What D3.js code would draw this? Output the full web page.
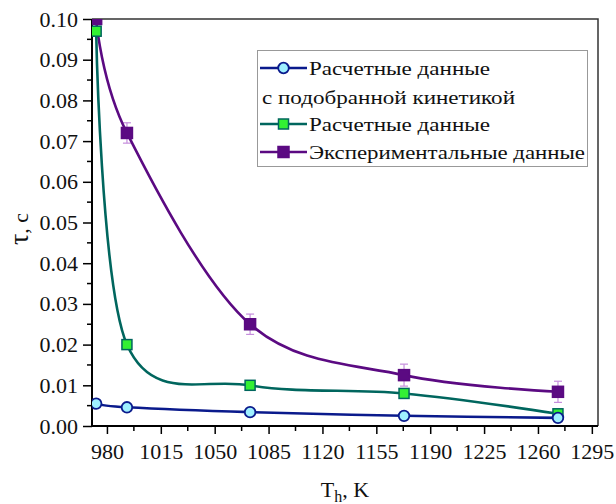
<!DOCTYPE html>
<html>
<head>
<meta charset="utf-8">
<script src="https://cdn.jsdelivr.net/npm/d3@7"></script>
<style>
  body { margin: 0; background: #fff; }
  svg text { font-family: 'Liberation Serif', 'DejaVu Serif', 'Times New Roman', Times, serif !important; }
</style>
</head>
<body>
<div id="app"></div>
<script>
const WIDTH = 616;
const HEIGHT = 504;

// temperature, K
const temps = [973, 993, 1073, 1173, 1273];
// tau, s
const fittedKinetics = [0.0055, 0.0046, 0.0034, 0.0025, 0.0020];
const calculated = [0.097, 0.020, 0.010, 0.008, 0.003];
const experimental = [0.100, 0.072, 0.025, 0.0125, 0.0084];
const experimentalErr = [0.0025, 0.0025, 0.0025, 0.0027, 0.0026];

const xTicks = [980, 1015, 1050, 1085, 1120, 1155, 1190, 1225, 1260, 1295];
const yTicks = [0, 0.01, 0.02, 0.03, 0.04, 0.05, 0.06, 0.07, 0.08, 0.09, 0.10];

const legendLabels = ['Расчетные данные', 'с подобранной кинетикой', 'Расчетные данные', 'Экспериментальные данные'];

const FONT = "'Liberation Serif', 'DejaVu Serif', serif";
const margin = { left: 92, right: 18, top: 19, bottom: 78 };

const svg = d3.select('#app')
  .append('svg')
    .attr('width', WIDTH)
    .attr('height', HEIGHT)
    .style('font-family', FONT);

const x = d3.scaleLinear()
  .domain([970.3, 1299])
  .range([margin.left, WIDTH - margin.right]);

const y = d3.scaleLinear()
  .domain([0, 0.10])
  .range([HEIGHT - margin.bottom, margin.top]);

svg.append('defs').append('clipPath')
  .attr('id', 'plot-clip')
  .append('rect')
    .attr('x', margin.left)
    .attr('y', margin.top)
    .attr('width', WIDTH - margin.right - margin.left)
    .attr('height', HEIGHT - margin.bottom - margin.top);

// frame (top + right)
svg.append('path')
  .attr('d', `M${x.range()[0]},${y(0.10)}H${x.range()[1]}V${y(0)}`)
  .attr('fill', 'none')
  .attr('stroke', '#333')
  .attr('stroke-width', 1.5);

// minor ticks
const xMinor = d3.range(980 + 17.5, 1299, 35);
const yMinor = d3.range(0.005, 0.1, 0.01);

const xAxis = d3.axisBottom(x).tickValues(xTicks).tickFormat(d => d).tickSize(8).tickPadding(9);
const gx = svg.append('g')
  .attr('transform', `translate(0,${y(0)})`)
  .call(xAxis);
gx.append('g').selectAll('line')
  .data(xMinor)
  .enter()
    .append('line')
    .attr('x1', d => x(d)).attr('x2', d => x(d))
    .attr('y1', 0).attr('y2', 5)
    .attr('stroke', '#000').attr('stroke-width', 1.5);

const yAxis = d3.axisLeft(y).tickValues(yTicks).tickFormat(d3.format('.2f')).tickSize(9).tickPadding(5);
const gy = svg.append('g')
  .attr('transform', `translate(${x.range()[0]},0)`)
  .call(yAxis);
gy.append('g').selectAll('line')
  .data(yMinor)
  .enter()
    .append('line')
    .attr('x1', 0).attr('x2', -5)
    .attr('y1', d => y(d)).attr('y2', d => y(d))
    .attr('stroke', '#000').attr('stroke-width', 1.5);

[gx, gy].forEach(g => {
  g.attr('font-family', FONT);
  g.select('.domain').attr('stroke-width', 2).attr('stroke', '#000');
  g.selectAll('.tick line').attr('stroke-width', 1.5);
  g.selectAll('.tick text')
    .attr('font-size', 22)
    .attr('fill', '#111');
});
gy.select('.domain').attr('d', `M0,${y(0.10)}V${y(0)}`);
gx.select('.domain').attr('d', `M${x.range()[0]},0H${x.range()[1]}`);

// axis titles
const yt = svg.append('text')
  .attr('transform', `translate(28,229) rotate(-90)`)
  .attr('text-anchor', 'middle')
  .attr('font-size', 22)
  .attr('fill', '#111');
yt.append('tspan').attr('font-size', 28).text('τ');
yt.append('tspan').text(', c');

const xt = svg.append('text')
  .attr('x', 345)
  .attr('y', 497)
  .attr('text-anchor', 'middle')
  .attr('font-size', 22)
  .attr('fill', '#111');
xt.append('tspan').text('T');
xt.append('tspan').attr('font-size', 16).attr('dy', 5).text('h');
xt.append('tspan').attr('dy', -5).text(', K');

// series
const plot = svg.append('g').attr('clip-path', 'url(#plot-clip)');

const line = vals => d3.line()
  .x((d, i) => x(temps[i]))
  .y(d => y(d))
  .curve(d3.curveCatmullRom.alpha(0))(vals);

const series = [
  { values: experimental, line: '#5b0a82', fill: '#5b0a82', stroke: '#5b0a82', shape: 'square', size: 11 },
  { values: calculated, line: '#00665e', fill: '#33f033', stroke: '#00665e', shape: 'square', size: 10 },
  { values: fittedKinetics, line: '#0a1a8c', fill: '#9ff0ff', stroke: '#0a1a8c', shape: 'circle', size: 5.3 }
];

// error bars for experimental data
const errG = plot.append('g').attr('stroke', '#c58ddc').attr('stroke-width', 1.2);
experimental.forEach((v, i) => {
  const cx = x(temps[i]);
  const e = experimentalErr[i];
  errG.append('line').attr('x1', cx).attr('x2', cx).attr('y1', y(v - e)).attr('y2', y(v + e));
  errG.append('line').attr('x1', cx - 4).attr('x2', cx + 4).attr('y1', y(v - e)).attr('y2', y(v - e));
  errG.append('line').attr('x1', cx - 4).attr('x2', cx + 4).attr('y1', y(v + e)).attr('y2', y(v + e));
});

const drawMarker = (g, s, cx, cy) => {
  if (s.shape === 'circle') {
    g.append('circle')
      .attr('cx', cx).attr('cy', cy).attr('r', s.size)
      .attr('fill', s.fill).attr('stroke', s.stroke).attr('stroke-width', 1.8);
  } else {
    g.append('rect')
      .attr('x', cx - s.size / 2).attr('y', cy - s.size / 2)
      .attr('width', s.size).attr('height', s.size)
      .attr('fill', s.fill).attr('stroke', s.stroke).attr('stroke-width', 1.5);
  }
};

series.forEach(s => {
  plot.append('path')
    .attr('d', line(s.values))
    .attr('fill', 'none')
    .attr('stroke', s.line)
    .attr('stroke-width', 2.6);
  s.values.forEach((v, i) => drawMarker(plot, s, x(temps[i]), y(v)));
});

// legend
const lg = svg.append('g');
lg.append('rect')
  .attr('x', 257.5).attr('y', 50.5)
  .attr('width', 330).attr('height', 116)
  .attr('fill', '#fff')
  .attr('stroke', '#999')
  .attr('stroke-width', 1);

const legendRows = [
  { s: series[2], label: legendLabels[0], cy: 68, w: 181 },
  { s: null, label: legendLabels[1], cy: 97, w: 253 },
  { s: series[1], label: legendLabels[2], cy: 124, w: 181 },
  { s: series[0], label: legendLabels[3], cy: 152, w: 276 }
];

legendRows.forEach(r => {
  if (r.s) {
    lg.append('line')
      .attr('x1', 260).attr('x2', 307)
      .attr('y1', r.cy).attr('y2', r.cy)
      .attr('stroke', r.s.line).attr('stroke-width', 2.6);
    drawMarker(lg, r.s, 283.5, r.cy);
  }
  lg.append('text')
    .attr('x', r.s ? 309 : 262)
    .attr('y', r.cy + 7)
    .attr('font-size', 19)
    .attr('fill', '#111')
    .attr('textLength', r.w)
    .attr('lengthAdjust', 'spacingAndGlyphs')
    .text(r.label);
});
</script>
</body>
</html>
